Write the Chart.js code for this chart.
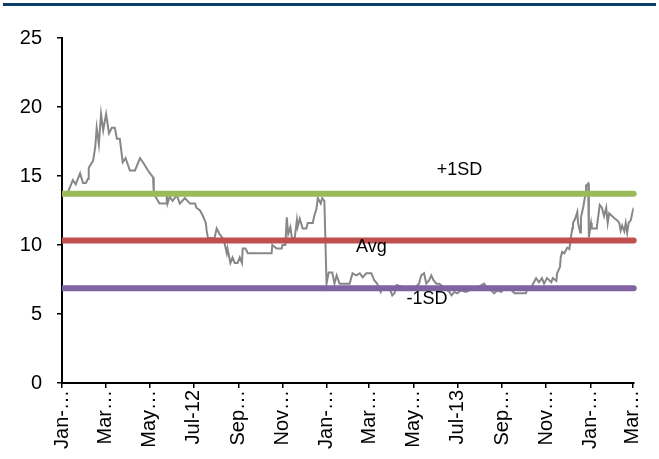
<!DOCTYPE html>
<html>
<head>
<meta charset="utf-8">
<script src="https://cdn.jsdelivr.net/npm/chart.js@4/dist/chart.umd.min.js"></script>
<style>
  html, body { margin: 0; padding: 0; background: #fff; }
  #wrap { width: 659px; height: 459px; position: relative; }
</style>
</head>
<body>
<div id="wrap"><canvas id="chart"></canvas></div>
<script>
// days since 1 Jan 2012
const days = [1, 8, 15, 19, 25, 29, 33, 36, 37, 43, 46, 48, 51, 54, 57, 61, 62, 65, 69, 73,
  76, 80, 84, 88, 94, 101, 108, 112, 119, 126, 127, 135, 144, 145, 146, 149, 153, 159, 163, 170,
  177, 184, 186, 191, 195, 199, 200, 202, 211, 214, 218, 222, 225, 228, 229, 233, 236, 239, 243, 246,
  249, 250, 254, 257, 290, 291, 297, 304, 305, 309, 311, 313, 316, 318, 322, 325, 326, 329, 333, 338,
  340, 347, 349, 352, 354, 358, 360, 363, 366, 369, 374, 377, 380, 384, 391, 398, 402, 407, 412, 416,
  421, 428, 432, 436, 441, 443, 453, 457, 460, 463, 474, 488, 494, 497, 501, 504, 508, 511, 514, 518,
  522, 529, 536, 539, 543, 547, 552, 559, 563, 574, 584, 588, 594, 598, 602, 608, 612, 619, 626, 630,
  642, 644, 649, 653, 656, 660, 664, 667, 671, 677, 679, 684, 685, 689, 690, 692, 695, 697, 699, 702,
  704, 706, 707, 710, 713, 714, 717, 718, 721, 724, 725, 728, 729, 732, 733, 739, 740, 744, 747, 750,
  753, 755, 757, 761, 765, 768, 771, 773, 775, 778, 780, 782, 784, 787, 789, 791];

const values = [13.7, 13.8, 14.7, 14.4, 15.2, 14.5, 14.5, 14.8, 15.6, 16.1, 17.1, 18.5, 17.3, 19.5, 18.3, 19.5, 19.5, 18.1, 18.5, 18.5,
  17.7, 17.7, 16.0, 16.3, 15.4, 15.4, 16.3, 16.0, 15.4, 14.9, 13.7, 13.0, 13.0, 13.7, 13.0, 13.5, 13.2, 13.6, 13.0, 13.4,
  13.0, 13.0, 12.7, 12.5, 12.1, 11.6, 11.1, 10.5, 10.5, 11.2, 10.8, 10.5, 10.1, 9.4, 9.75, 8.7, 9.1, 8.7, 8.7, 9.1,
  8.7, 9.75, 9.75, 9.4, 9.4, 10.0, 9.75, 9.75, 10.0, 10.0, 12.0, 10.8, 11.3, 10.5, 10.5, 11.8, 11.3, 11.9, 11.2, 11.2,
  11.6, 11.6, 12.1, 12.6, 13.4, 13.0, 13.4, 13.2, 7.2, 8.0, 8.0, 7.2, 7.8, 7.2, 7.2, 7.2, 7.95, 7.8, 7.95, 7.65,
  7.95, 7.95, 7.45, 7.2, 6.6, 6.9, 6.9, 6.35, 6.5, 7.1, 6.9, 6.9, 7.2, 7.8, 7.95, 7.2, 7.45, 7.8, 7.45, 7.2,
  7.2, 6.9, 6.6, 6.35, 6.6, 6.5, 6.7, 6.6, 6.7, 6.9, 7.2, 6.9, 6.7, 6.5, 6.7, 6.6, 6.9, 6.9, 6.5, 6.5,
  6.5, 6.9, 6.9, 7.3, 7.6, 7.3, 7.6, 7.2, 7.6, 7.3, 7.6, 7.4, 7.95, 8.4, 9.1, 9.5, 9.4, 9.6, 9.8, 9.7,
  10.5, 11.2, 11.6, 11.9, 12.4, 11.6, 10.9, 12.0, 12.7, 13.6, 14.3, 14.45, 10.55, 11.6, 11.2, 11.2, 11.3, 12.9, 12.7, 12.1,
  12.7, 11.6, 12.3, 12.1, 11.9, 11.8, 11.6, 11.05, 11.4, 11.0, 11.6, 10.9, 11.6, 11.8, 12.3, 12.7];

const tickDays = [0, 60, 121, 182, 244, 305, 366, 425, 486, 547, 609, 670, 731, 790];
const tickLabels = ['Jan-…', 'Mar…', 'May…', 'Jul-12', 'Sep…', 'Nov…', 'Jan-…',
  'Mar…', 'May…', 'Jul-13', 'Sep…', 'Nov…', 'Jan-…', 'Mar…'];

const avg = 10.33;
const plusSD = 13.72;
const minusSD = 6.86;
const bandNames = ['+1SD', 'Avg', '-1SD'];

const lastDay = 791;
const flat = v => [{ x: 0, y: v }, { x: lastDay, y: v }];

const FONT = "'Liberation Sans', Arial, sans-serif";

const extras = {
  id: 'extras',
  beforeDraw(chart) {
    const c = chart.ctx;
    c.save();
    c.fillStyle = '#0b3d6c';
    c.fillRect(3, 3, 653, 3);
    c.restore();
  },
  afterDatasetsDraw(chart) {
    const c = chart.ctx;
    const x = chart.scales.x, y = chart.scales.y;
    const spots = [[550, 15.45], [428, 9.85], [505, 6.1]];
    c.save();
    c.font = '18px ' + FONT;
    c.fillStyle = '#000';
    c.textAlign = 'center';
    c.textBaseline = 'middle';
    bandNames.forEach((t, i) => {
      c.fillText(t, x.getPixelForValue(spots[i][0]), y.getPixelForValue(spots[i][1]));
    });
    c.restore();
  }
};

new Chart(document.getElementById('chart'), {
  type: 'line',
  data: {
    datasets: [
      {
        label: 'Series',
        data: days.map((d, i) => ({ x: d, y: values[i] })),
        borderColor: '#878787',
        borderWidth: 2,
        pointRadius: 0,
        tension: 0,
        order: 4
      },
      {
        label: '+1SD',
        data: flat(plusSD),
        borderColor: '#9bbb59',
        borderWidth: 6,
        borderCapStyle: 'round',
        pointRadius: 0,
        clip: { left: 0, top: false, right: false, bottom: false },
        order: 1
      },
      {
        label: 'Avg',
        data: flat(avg),
        borderColor: '#c0504d',
        borderWidth: 6,
        borderCapStyle: 'round',
        pointRadius: 0,
        clip: { left: 0, top: false, right: false, bottom: false },
        order: 2
      },
      {
        label: '-1SD',
        data: flat(minusSD),
        borderColor: '#8064a2',
        borderWidth: 6,
        borderCapStyle: 'round',
        pointRadius: 0,
        clip: { left: 0, top: false, right: false, bottom: false },
        order: 3
      }
    ]
  },
  options: {
    responsive: true,
    maintainAspectRatio: false,
    animation: false,
    layout: { padding: { top: 38, right: 23, left: 0, bottom: 0 } },
    plugins: { legend: { display: false }, tooltip: { enabled: false } },
    scales: {
      x: {
        type: 'linear',
        min: 0,
        max: lastDay,
        afterBuildTicks: axis => { axis.ticks = tickDays.map(v => ({ value: v })); },
        afterFit: axis => { axis.height = 76; },
        ticks: {
          autoSkip: false,
          maxRotation: 90,
          minRotation: 90,
          padding: 2,
          color: '#000',
          font: { family: FONT, size: 20 },
          callback: (v, i) => tickLabels[i]
        },
        grid: { drawOnChartArea: false, drawTicks: true, tickLength: 5, color: '#000', lineWidth: 1.5 },
        border: { color: '#000', width: 2 }
      },
      y: {
        min: 0,
        max: 25,
        afterFit: axis => { axis.width = 62; },
        ticks: {
          stepSize: 5,
          padding: 15,
          color: '#000',
          font: { family: FONT, size: 20 }
        },
        grid: { drawOnChartArea: false, drawTicks: true, tickLength: 5, color: '#000', lineWidth: 1.5 },
        border: { color: '#000', width: 2 }
      }
    }
  },
  plugins: [extras]
});
</script>
</body>
</html>
